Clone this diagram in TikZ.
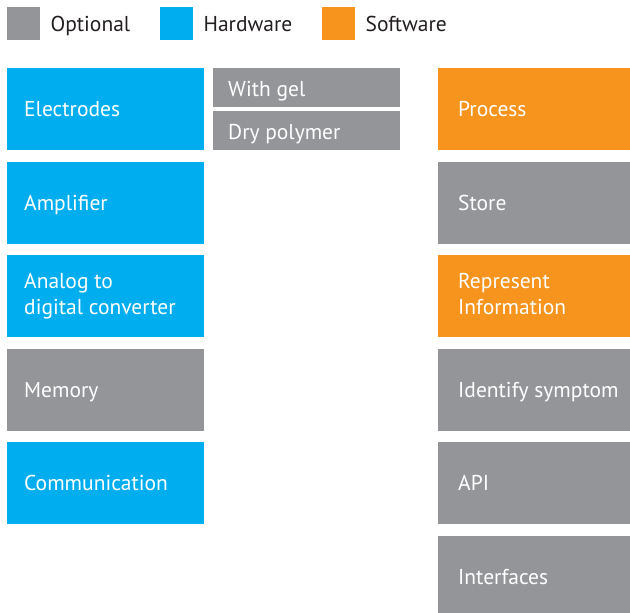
\documentclass[tikz,border=0pt]{standalone}
\usepackage{fontspec}
\setmainfont{PT Sans}
\definecolor{optgrey}{HTML}{939598}
\definecolor{hwblue}{HTML}{00AEEF}
\definecolor{swgorange}{HTML}{F7941D}
\definecolor{inkdark}{HTML}{231F20}
\tikzset{
  cell/.style={inner sep=0pt, minimum width=#1, anchor=north west, draw=none},
  wide/.style={cell=197pt, minimum height=82pt},
  narrow/.style={cell=187pt, minimum height=39pt},
  right col/.style={cell=192pt, minimum height=82pt},
  txtfont/.style={font=\fontsize{21.5}{26}\selectfont},
  % one-line labels sit on a baseline a little below the box middle
  txt/.style={anchor=base west, inner sep=0pt, text=white, txtfont},
  % two-line labels are centred as a block
  txttwo/.style={anchor=west, inner sep=0pt, text=white, align=left, txtfont},
  swatch/.style={inner sep=0pt, minimum size=33pt, anchor=north west},
  legtxt/.style={anchor=base west, inner sep=0pt, text=inkdark, txtfont},
}
\begin{document}
\begin{tikzpicture}[x=1pt,y=-1pt]
\useasboundingbox (0,0) rectangle (630,613);

% legend
\node[swatch, fill=optgrey] (kopt) at (7,7) {};
\node[legtxt] (kopttxt) at ([xshift=10pt,yshift=-7.5pt]kopt.east) {Optional};
\node[swatch, fill=hwblue] (khw) at (160,7) {};
\node[legtxt] (khwtxt) at ([xshift=10pt,yshift=-7.5pt]khw.east) {Hardware};
\node[swatch, fill=swgorange] (ksw) at (322,7) {};
\node[legtxt] (kswtxt) at ([xshift=10pt,yshift=-7.5pt]ksw.east) {Software};

% hardware column
\node[wide, fill=hwblue] (elec) at (7,68) {};
\node[txt] (elect) at ([xshift=17pt,yshift=-7.5pt]elec.west) {Electrodes};
\node[wide, fill=hwblue] (amp) at (7,161.5) {};
\node[txt] (ampt) at ([xshift=17pt,yshift=-7.5pt]amp.west) {Amplifier};
\node[wide, fill=hwblue] (adc) at (7,255) {};
\node[txttwo] (adct) at ([xshift=17pt]adc.west) {Analog to\\digital converter};
\node[wide, fill=optgrey] (mem) at (7,348.5) {};
\node[txt] (memt) at ([xshift=17pt,yshift=-7.5pt]mem.west) {Memory};
\node[wide, fill=hwblue] (comm) at (7,442) {};
\node[txt] (commt) at ([xshift=17pt,yshift=-7.5pt]comm.west) {Communication};

% electrode options
\node[narrow, fill=optgrey] (gel) at (213,68) {};
\node[txt] (gelt) at ([xshift=15pt,yshift=-9pt]gel.west) {With gel};
\node[narrow, fill=optgrey] (dry) at (213,111) {};
\node[txt] (dryt) at ([xshift=15pt,yshift=-9pt]dry.west) {Dry polymer};

% software column
\node[right col, fill=swgorange] (proc) at (438,68) {};
\node[txt] (proct) at ([xshift=20pt,yshift=-7.5pt]proc.west) {Process};
\node[right col, fill=optgrey] (store) at (438,161.5) {};
\node[txt] (storet) at ([xshift=20pt,yshift=-7.5pt]store.west) {Store};
\node[right col, fill=swgorange] (repr) at (438,255) {};
\node[txttwo] (reprt) at ([xshift=20pt,yshift=2pt]repr.west) {Represent\\Information};
\node[right col, fill=optgrey] (ident) at (438,348.5) {};
\node[txt] (identt) at ([xshift=20pt,yshift=-7.5pt]ident.west) {Identify symptom};
\node[right col, fill=optgrey] (api) at (438,442) {};
\node[txt] (apit) at ([xshift=20pt,yshift=-7.5pt]api.west) {API};
\node[cell=192pt, minimum height=77.5pt, fill=optgrey] (intf) at (438,535.5) {};
\node[txt] (intft) at ([xshift=20pt,yshift=-7.5pt]intf.north west) [yshift=-41pt] {Interfaces};
\end{tikzpicture}
\end{document}
